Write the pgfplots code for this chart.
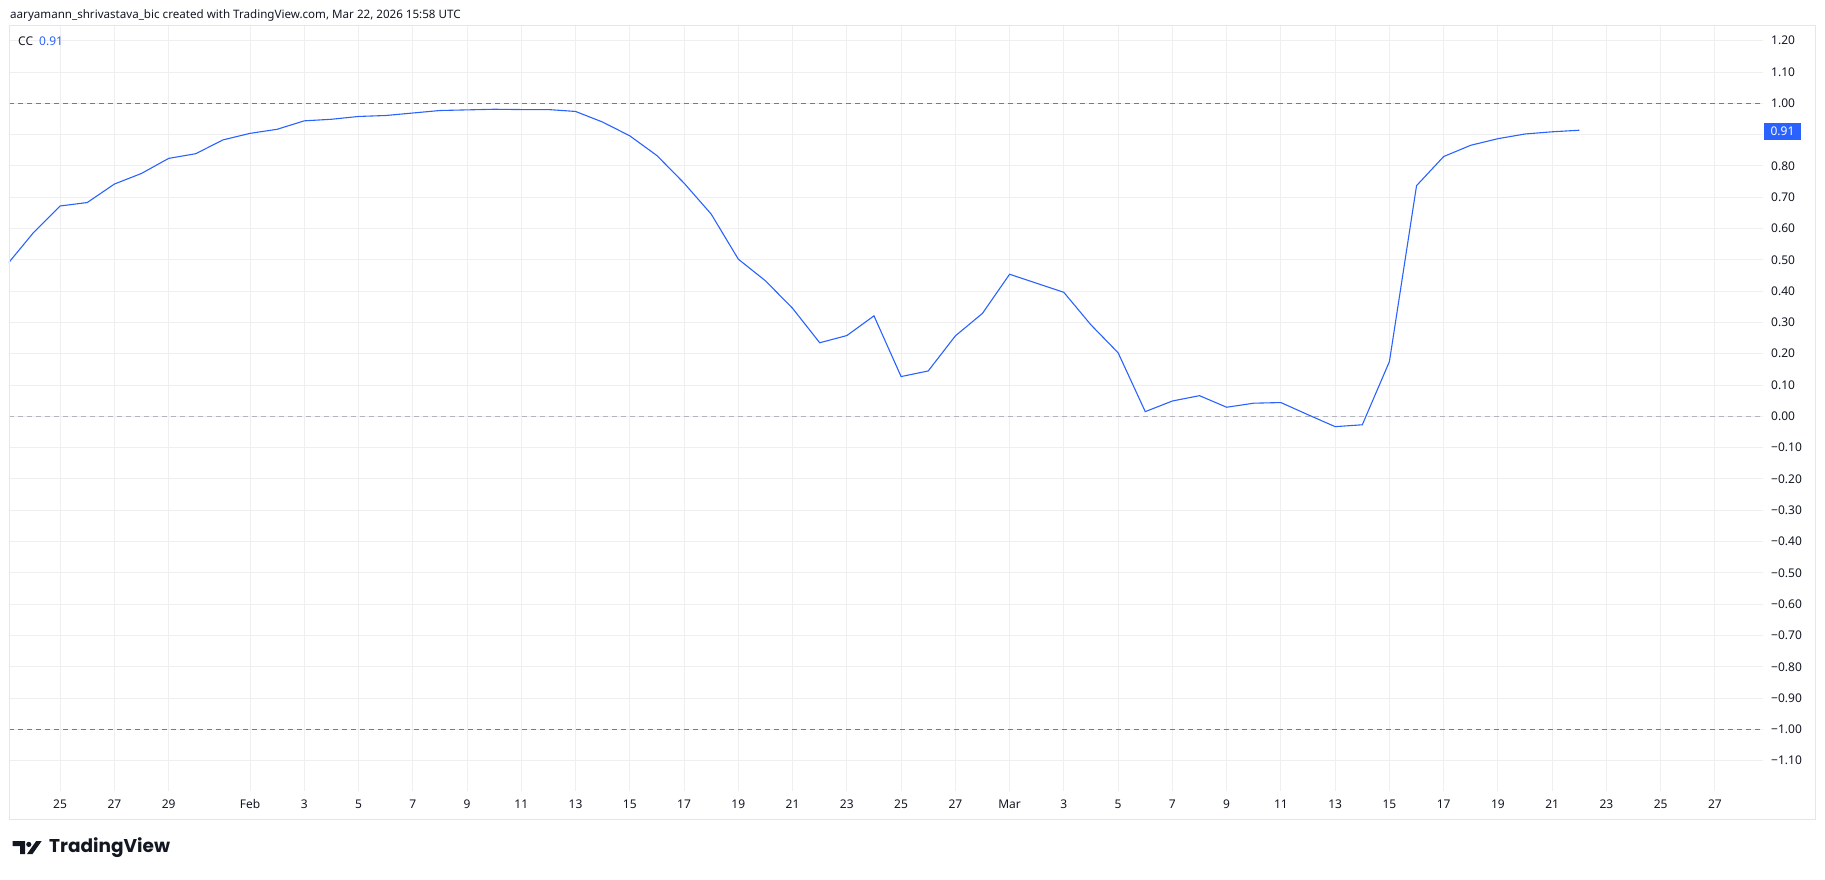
\documentclass[border=0pt]{standalone}
\usepackage{fontspec}
\setmainfont{Noto Sans}
\newfontfamily\logofont{Poppins}
\usepackage{pgfplots}
\usepackage{pgfplotstable}
\pgfplotsset{compat=1.18}
\definecolor{tvblue}{HTML}{2962FF}
\definecolor{tvgrid}{HTML}{EFEFF1}
\definecolor{tvdash}{HTML}{787B86}
\definecolor{tvdash2}{HTML}{B2B5BE}
\definecolor{tvtext}{HTML}{131722}
\definecolor{tvframe}{HTML}{E6E6E8}

% day 0 = Jan 25; Feb 1 = 7; Mar 1 = 35
\pgfplotstableread{
day cc
-2 0.480
-1 0.585
0 0.672
1 0.683
2 0.742
3 0.776
4 0.824
5 0.839
6 0.883
7 0.904
8 0.917
9 0.944
10 0.949
11 0.958
12 0.961
13 0.969
14 0.977
15 0.979
16 0.981
17 0.980
18 0.980
19 0.974
20 0.940
21 0.896
22 0.833
23 0.745
24 0.646
25 0.502
26 0.433
27 0.345
28 0.235
29 0.258
30 0.321
31 0.127
32 0.145
33 0.257
34 0.329
35 0.454
36 0.425
37 0.396
38 0.292
39 0.203
40 0.015
41 0.049
42 0.066
43 0.029
44 0.042
45 0.044
46 0.005
47 -0.033
48 -0.027
49 0.175
50 0.737
51 0.830
52 0.866
53 0.887
54 0.902
55 0.909
56 0.914
}\ccdata

\begin{document}
\begin{tikzpicture}[x=1pt,y=1pt]
\path (0,0) rectangle (1825,879);
\begin{axis}[
  at={(9pt,88.3pt)}, anchor=south west,
  scale only axis, width=1754pt, height=764.7pt,
  xmin=-1.884, xmax=62.77, ymin=-1.196, ymax=1.247,
  axis line style={draw=none},
  major tick length=0pt,
  grid=major,
  grid style={tvgrid, line width=1pt},
  xtick={0,2,4,7,9,11,13,15,17,19,21,23,25,27,29,31,33,35,37,39,41,43,45,47,49,51,53,55,57,59,61},
  xticklabels={25,27,29,Feb,3,5,7,9,11,13,15,17,19,21,23,25,27,Mar,3,5,7,9,11,13,15,17,19,21,23,25,27},
  ytick={-1.1,-1,-0.9,-0.8,-0.7,-0.6,-0.5,-0.4,-0.3,-0.2,-0.1,0,0.1,0.2,0.3,0.4,0.5,0.6,0.7,0.8,0.9,1,1.1,1.2},
  yticklabels={−1.10,−1.00,−0.90,−0.80,−0.70,−0.60,−0.50,−0.40,−0.30,−0.20,−0.10,0.00,0.10,0.20,0.30,0.40,0.50,0.60,0.70,0.80,{},1.00,1.10,1.20},
  yticklabel pos=right,
  xticklabel style={font=\fontsize{12}{14}\selectfont, text=tvtext, anchor=center, inner sep=0pt, yshift=-13.3pt},
  yticklabel style={font=\fontsize{12}{14}\selectfont, text=tvtext, anchor=west, inner sep=0pt, xshift=8pt},
  clip=true,
]
\addplot[tvdash, dash pattern=on 5pt off 4pt, line width=1pt, forget plot] coordinates {(-1.884,1) (62.77,1)};
\addplot[tvdash2, dash pattern=on 5pt off 4pt, line width=1pt, forget plot] coordinates {(-1.884,0) (62.77,0)};
\addplot[tvdash, dash pattern=on 5pt off 4pt, line width=1pt, forget plot] coordinates {(-1.884,-1) (62.77,-1)};
\addplot[tvblue, line width=1.1pt] table[x=day, y=cc] {\ccdata};
\end{axis}
% frame
\draw[tvframe, line width=1pt] (9,60) rectangle (1815,853);
% header
\node[anchor=west, inner sep=0pt, font=\fontsize{11.6}{14}\selectfont, text=tvtext] at (10,864) {aaryamann\_shrivastava\_bic created with TradingView.com, Mar 22, 2026 15:58 UTC};
\node[anchor=west, inner sep=0pt, font=\fontsize{12}{14}\selectfont, text=tvtext] at (18,837.3) {CC};
\node[anchor=west, inner sep=0pt, font=\fontsize{12}{14}\selectfont, text=tvblue] at (39,837.3) {0.91};
% last value box
\fill[tvblue] (1764,739) rectangle (1801,756.3);
\node[inner sep=0pt, font=\bfseries\fontsize{12}{14}\selectfont, text=white] at (1782.5,747.7) {0.91};
% logo
\fill[tvtext] (12.7,38) -- (25,38) -- (25,25) -- (20,25) -- (20,33) -- (12.7,33) -- cycle;
\fill[tvtext] (28.8,34.6) circle (2.6);
\fill[tvtext] (27,25) -- (32.5,25) -- (41.7,38) -- (36.2,38) -- cycle;
\node[anchor=west, inner sep=0pt, font=\logofont\bfseries\fontsize{18.5}{22}\selectfont, text=tvtext] at (49,31.5) {TradingView};
\pgfresetboundingbox
\useasboundingbox (0,0) rectangle (1825,879);
\end{tikzpicture}
\end{document}
